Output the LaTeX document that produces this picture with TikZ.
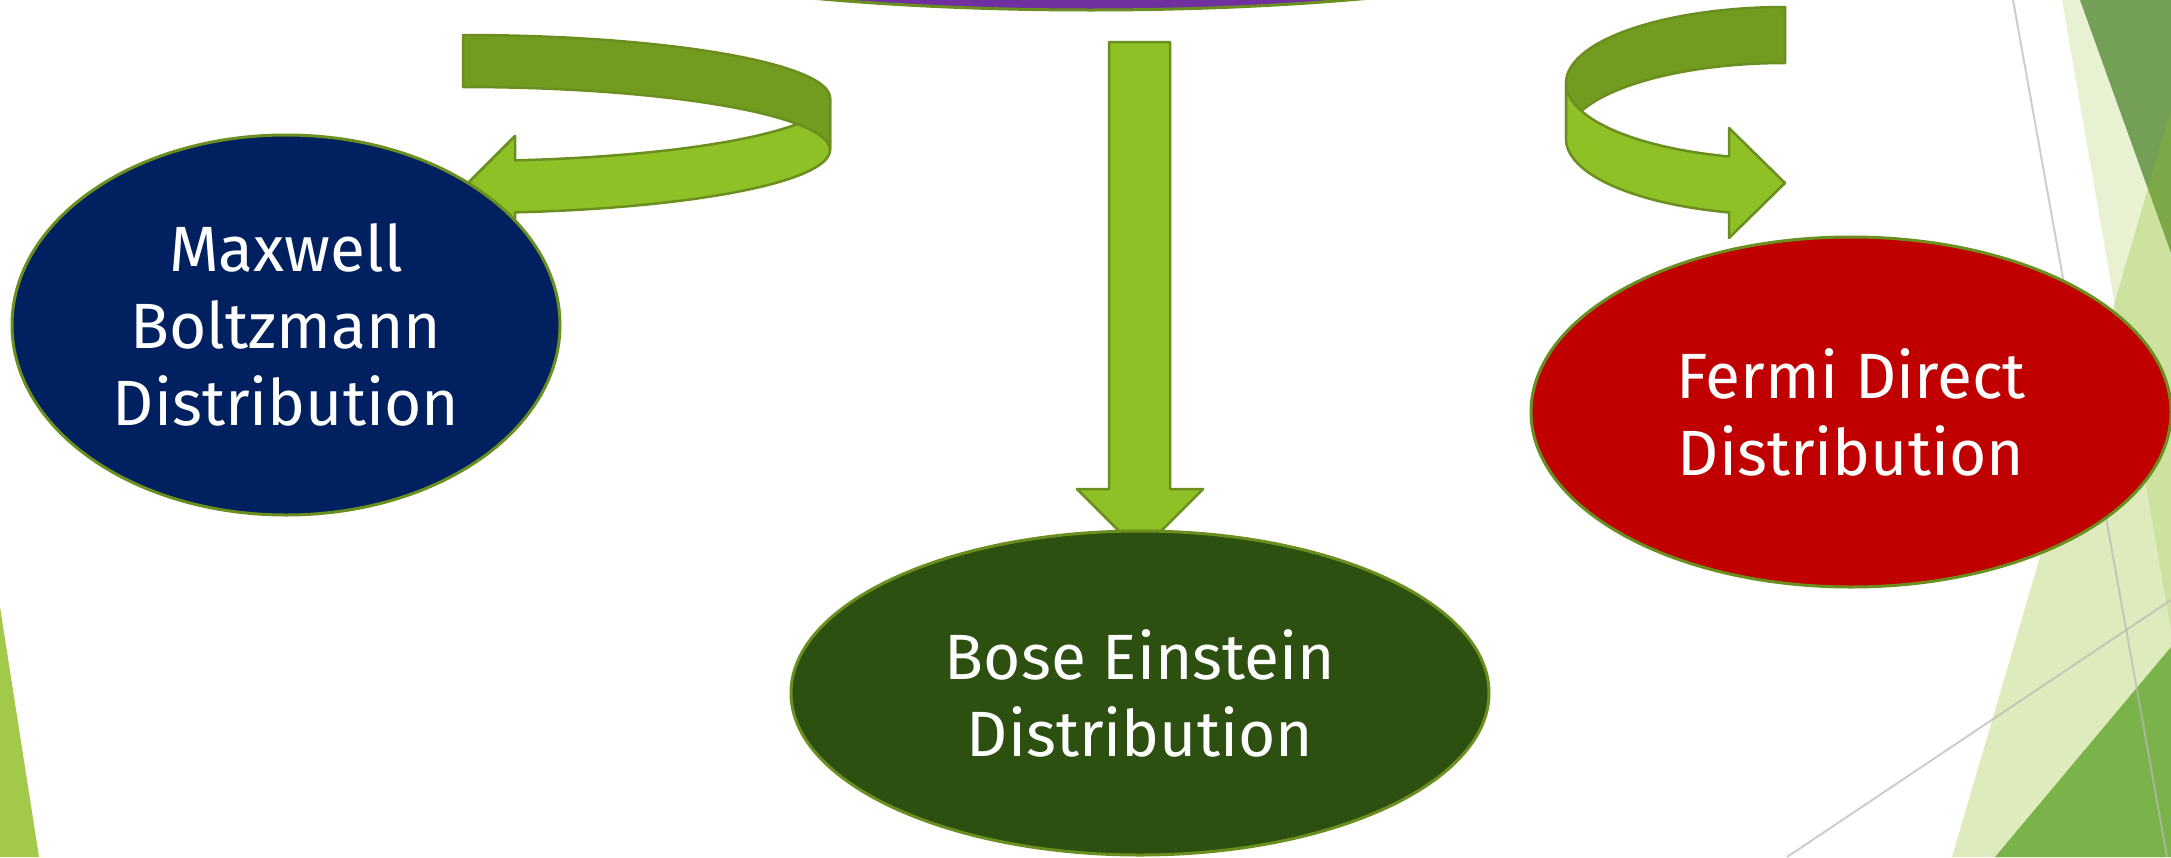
\documentclass[tikz,border=0pt]{standalone}
\usepackage{fontspec}
\setmainfont{Fira Sans}
\usepackage{tikz}
\usetikzlibrary{shapes.geometric}

\definecolor{mbblue}{HTML}{002060}
\definecolor{begreen}{HTML}{2D5011}
\definecolor{fdred}{HTML}{C00000}
\definecolor{toppurple}{HTML}{7030A0}
\definecolor{rim}{HTML}{6A8F1F}
\definecolor{bandfront}{HTML}{8FC026}
\definecolor{bandback}{HTML}{739B20}
\definecolor{leaf}{HTML}{8FC026}
\definecolor{deepleaf}{HTML}{749F57}
\definecolor{grass}{HTML}{7AB34A}
\definecolor{lime}{HTML}{A2C94A}

\tikzset{
  dist/.style={ellipse, draw=rim, line width=3pt, text=white, align=center,
    inner sep=0pt, font=\fontsize{64}{77}\selectfont},
  front/.style={fill=bandfront, draw=rim, line width=2.5pt, line join=round},
  back/.style={fill=bandback, draw=rim, line width=2.5pt, line join=round},
  thinline/.style={draw=gray!55, line width=2pt, opacity=.7}
}

\begin{document}
\begin{tikzpicture}[x=1pt, y=-1pt]
\useasboundingbox (0,0) rectangle (2171,857);
\clip (0,0) rectangle (2171,857);
\fill[white] (0,0) rectangle (2171,857);
% background
\fill[leaf, fill opacity=.2] (2062,0) -- (2171,0) -- (2171,630) -- cycle;
\fill[deepleaf] (2080,0) -- (2171,0) -- (2171,253) -- cycle;
\fill[leaf, fill opacity=.3] (2171,110) -- (2171,857) -- (1952,857) -- cycle;
\fill[grass] (2171,647) -- (2171,857) -- (1995,857) -- cycle;
\fill[lime] (0,607) -- (39,857) -- (0,857) -- cycle;
\draw[thinline] (2013,0) -- (2167,857);
\draw[thinline] (1787,857) -- (2171,600);

\node[ellipse, fill=toppurple, draw=rim, line width=3pt, minimum width=1200, minimum height=208] (top) at (1091,-94) {};

% left turn
\draw[front] (830,98) -- plot[domain=0:81.85, samples=40, variable=\t] ({463+367*cos(\t)}, {98+63*sin(\t)})
  -- (515,136) -- (465,186) -- (515,236)
  -- plot[domain=81.85:0, samples=40, variable=\t] ({463+367*cos(\t)}, {150+63*sin(\t)}) -- cycle;
\draw[back] plot[domain=-90:0, samples=40, variable=\t] ({463+367*cos(\t)}, {98+63*sin(\t)})
  -- plot[domain=0:-90, samples=40, variable=\t] ({463+367*cos(\t)}, {150+63*sin(\t)}) -- cycle;

% right turn
\draw[back] plot[domain=-90:-180, samples=40, variable=\t] ({1785+219*cos(\t)}, {83+76*sin(\t)})
  -- plot[domain=-180:-90, samples=40, variable=\t] ({1785+219*cos(\t)}, {139+76*sin(\t)}) -- cycle;
\draw[front] plot[domain=180:104.8, samples=40, variable=\t] ({1785+219*cos(\t)}, {83+76*sin(\t)})
  -- (1729,128) -- (1785,183) -- (1729,238)
  -- plot[domain=104.8:180, samples=40, variable=\t] ({1785+219*cos(\t)}, {139+76*sin(\t)}) -- cycle;

% down
\draw[front] (1109,42) -- (1170,42) -- (1170,489) -- (1203,489) -- (1140,552) -- (1077,489) -- (1109,489) -- cycle;

\node[dist, fill=mbblue, minimum width=548, minimum height=380] (maxwell) at (286,325) {Maxwell\\Boltzmann\\Distribution};
\node[dist, fill=begreen, minimum width=698, minimum height=324] (bose) at (1140,693) {Bose Einstein\\Distribution};
\node[dist, fill=fdred, minimum width=640, minimum height=350] (fermi) at (1851,412) {Fermi Direct\\Distribution};
\end{tikzpicture}
\end{document}
